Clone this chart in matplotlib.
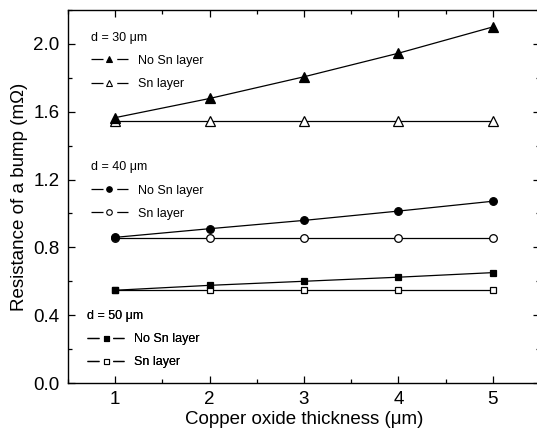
import numpy as np
import matplotlib
matplotlib.use('Agg')
import matplotlib.pyplot as plt
from matplotlib.lines import Line2D
from matplotlib.ticker import MultipleLocator, FormatStrFormatter

plt.rcParams['font.family'] = ['Liberation Sans', 'DejaVu Sans']

# ---- data ----
thickness = [1, 2, 3, 4, 5]

r30_no_sn = [1.565, 1.678, 1.806, 1.945, 2.100]
r30_sn = [1.547, 1.547, 1.547, 1.547, 1.547]

r40_no_sn = [0.859, 0.910, 0.959, 1.014, 1.072]
r40_sn = [0.857, 0.857, 0.857, 0.857, 0.857]

r50_no_sn = [0.547, 0.576, 0.600, 0.624, 0.651]
r50_sn = [0.547, 0.547, 0.547, 0.547, 0.547]

# title, series, marker, plot size, legend size, legend anchor (x, y)
groups = [
    ('d = 30 μm', r30_no_sn, r30_sn, '^', 6.5, 4.5, (0.048, 0.942)),
    ('d = 40 μm', r40_no_sn, r40_sn, 'o', 5.5, 4.0, (0.048, 0.594)),
    ('d = 50 μm', r50_no_sn, r50_sn, 's', 4.2, 3.6, (0.040, 0.196)),
]

fig = plt.figure(figsize=(5.37, 4.34), dpi=100)
ax = fig.add_axes([0.1266, 0.1175, 0.8790, 0.8595])

# line - gap (marker) - line, like the Origin legend symbols
dash = (0, (9.6, 11.0, 9.6, 200))

for title, no_sn, sn, mk, ms, lms, anchor in groups:
    ax.plot(thickness, sn, '-', color='black', lw=0.9, marker=mk, ms=ms,
            mfc='white', mec='black', mew=0.9, zorder=2)
    ax.plot(thickness, no_sn, '-', color='black', lw=0.9, marker=mk, ms=ms,
            mfc='black', mec='black', mew=0.9, zorder=3)

    h1 = Line2D([], [], color='black', lw=0.9, linestyle=dash, marker=mk,
                ms=lms, mfc='black', mec='black', mew=0.8)
    h2 = Line2D([], [], color='black', lw=0.9, linestyle=dash, marker=mk,
                ms=lms, mfc='white', mec='black', mew=0.8)
    leg = ax.legend([h1, h2], ['No Sn layer', 'Sn layer'], title=title,
                    loc='upper left', bbox_to_anchor=anchor,
                    frameon=False, fontsize=9, title_fontsize=9,
                    handlelength=3.0, handletextpad=0.8, numpoints=1,
                    labelspacing=0.9, borderaxespad=0, borderpad=0,
                    alignment='left')
    leg._legend_box.sep = 8
    ax.add_artist(leg)

ax.set_xlim(0.5, 5.5)
ax.set_ylim(0.0, 2.2)
ax.xaxis.set_major_locator(MultipleLocator(1))
ax.xaxis.set_minor_locator(MultipleLocator(0.5))
ax.yaxis.set_major_locator(MultipleLocator(0.4))
ax.yaxis.set_minor_locator(MultipleLocator(0.2))
ax.yaxis.set_major_formatter(FormatStrFormatter('%.1f'))

ax.tick_params(which='both', direction='in', top=True, right=True,
               labelsize=13.5, width=0.9)
ax.tick_params(which='major', length=5, pad=6)
ax.tick_params(which='minor', length=3)
for sp in ax.spines.values():
    sp.set_linewidth(1.0)

ax.set_xlabel('Copper oxide thickness (μm)', fontsize=13.5, labelpad=2)
ax.set_ylabel('Resistance of a bump (mΩ)', fontsize=13.5, labelpad=4)

fig.savefig('out.png', dpi=100)
